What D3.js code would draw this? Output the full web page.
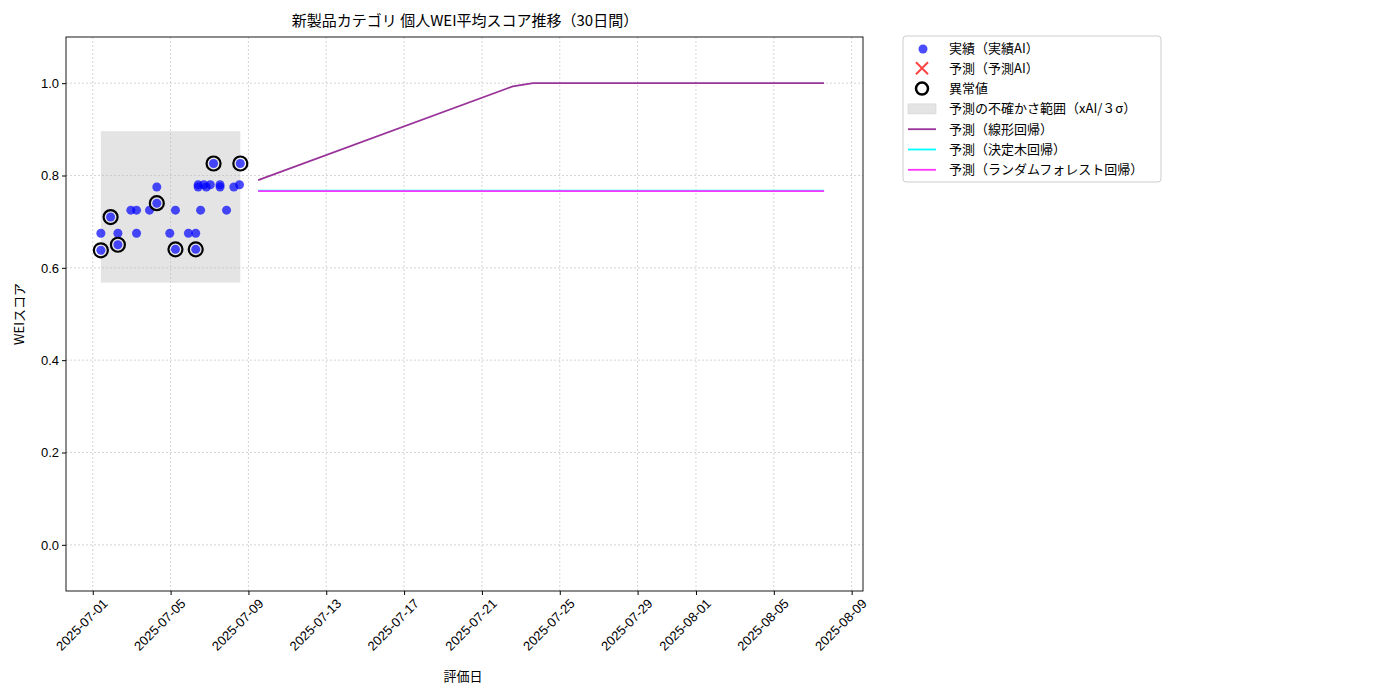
<!DOCTYPE html>
<html><head><meta charset="utf-8">
<script src="https://cdn.jsdelivr.net/npm/d3@7"></script>
<style>body{margin:0;background:#fff;font-family:"Noto Sans CJK JP","DejaVu Sans",sans-serif;}</style>
</head><body><svg id="c" width="1400" height="700"></svg>
<script>
const actual = [
  ["2025-07-01T10:00",0.675],["2025-07-01T10:00",0.638],["2025-07-01T22:00",0.71],
  ["2025-07-02T07:00",0.675],["2025-07-02T07:00",0.65],["2025-07-02T23:00",0.725],
  ["2025-07-03T06:00",0.725],["2025-07-03T06:00",0.675],["2025-07-03T22:00",0.725],
  ["2025-07-04T07:00",0.775],["2025-07-04T07:00",0.74],["2025-07-04T23:00",0.675],
  ["2025-07-05T06:00",0.725],["2025-07-05T06:00",0.64],["2025-07-05T22:00",0.675],
  ["2025-07-06T07:00",0.675],["2025-07-06T07:00",0.64],["2025-07-06T10:00",0.78],
  ["2025-07-06T10:00",0.775],["2025-07-06T13:00",0.725],["2025-07-06T17:00",0.78],
  ["2025-07-06T20:00",0.775],["2025-07-07T01:00",0.78],["2025-07-07T05:00",0.826],
  ["2025-07-07T13:00",0.78],["2025-07-07T13:00",0.775],["2025-07-07T21:00",0.725],
  ["2025-07-08T06:00",0.775],["2025-07-08T13:00",0.78],["2025-07-08T14:00",0.826]
];
const outliers = [
  ["2025-07-01T10:00",0.638],["2025-07-01T22:00",0.71],["2025-07-02T07:00",0.65],
  ["2025-07-04T07:00",0.74],["2025-07-05T06:00",0.64],["2025-07-06T07:00",0.64],
  ["2025-07-07T05:00",0.826],["2025-07-08T14:00",0.826]
];
const band = {x0:"2025-07-01T10:00", x1:"2025-07-08T14:00", y0:0.568, y1:0.896};
const linear = [["2025-07-09T12:00",0.79],["2025-07-22T14:00",0.993],["2025-07-23T15:00",1.0],["2025-08-07T14:00",1.0]];
const tree = [["2025-07-09T12:00",0.767],["2025-08-07T14:00",0.767]];
const forest = [["2025-07-09T12:00",0.766],["2025-08-07T14:00",0.766]];
const tickDates = ["2025-07-01","2025-07-05","2025-07-09","2025-07-13","2025-07-17","2025-07-21","2025-07-25","2025-07-29","2025-08-01","2025-08-05","2025-08-09"];
const yTicks = [0,0.2,0.4,0.6,0.8,1.0];
const legendItems = ["実績（実績AI）","予測（予測AI）","異常値","予測の不確かさ範囲（xAI/３σ）","予測（線形回帰）","予測（決定木回帰）","予測（ランダムフォレスト回帰）"];

const P = d3.timeParse("%Y-%m-%dT%H:%M"), PD = d3.timeParse("%Y-%m-%d");
const svg = d3.select("#c");
const L=66,R=863,T=37,B=591;
const x = d3.scaleTime().domain([P("2025-06-29T15:00"),P("2025-08-09T14:00")]).range([L,R]);
const y = d3.scaleLinear().domain([-0.1,1.1]).range([B,T]);
const g = svg.append("g");
// grid
g.selectAll(".gx").data(tickDates).join("line").attr("x1",d=>x(PD(d))).attr("x2",d=>x(PD(d)))
  .attr("y1",T).attr("y2",B).attr("stroke","#ccc").attr("stroke-dasharray","2,2").attr("stroke-width",0.8);
g.selectAll(".gy").data(yTicks).join("line").attr("y1",d=>y(d)).attr("y2",d=>y(d))
  .attr("x1",L).attr("x2",R).attr("stroke","#ccc").attr("stroke-dasharray","2,2").attr("stroke-width",0.8);
// band
g.append("rect").attr("x",x(P(band.x0))).attr("width",x(P(band.x1))-x(P(band.x0)))
  .attr("y",y(band.y1)).attr("height",y(band.y0)-y(band.y1)).attr("fill","#bbb").attr("fill-opacity",0.4);
const line = d3.line().x(d=>x(P(d[0]))).y(d=>y(d[1]));
g.append("path").attr("d",line(linear)).attr("fill","none").attr("stroke","#993399").attr("stroke-width",1.8);
g.append("path").attr("d",line(tree)).attr("fill","none").attr("stroke","cyan").attr("stroke-width",1.8);
g.append("path").attr("d",line(forest)).attr("fill","none").attr("stroke","#ff33ff").attr("stroke-width",1.8);
g.selectAll(".pt").data(actual).join("circle").attr("cx",d=>x(P(d[0]))).attr("cy",d=>y(d[1]))
  .attr("r",4.5).attr("fill","#0000ff").attr("fill-opacity",0.7);
g.selectAll(".ol").data(outliers).join("circle").attr("cx",d=>x(P(d[0]))).attr("cy",d=>y(d[1]))
  .attr("r",7).attr("fill","none").attr("stroke","#000").attr("stroke-width",2.2);
// frame
svg.append("rect").attr("x",L).attr("y",T).attr("width",R-L).attr("height",B-T).attr("fill","none").attr("stroke","#000").attr("stroke-width",0.9);
// axes
const xa = svg.append("g").attr("transform",`translate(0,${B})`)
  .call(d3.axisBottom(x).tickValues(tickDates.map(d=>PD(d))).tickFormat(d3.timeFormat("%Y-%m-%d")).tickSizeOuter(0).tickSize(4));
xa.select(".domain").remove();
xa.selectAll("text").attr("font-size",13).attr("font-family","inherit").attr("text-anchor","end")
  .attr("transform","translate(4,2) rotate(-45)").attr("dy","0.7em").attr("dx","0");
const ya = svg.append("g").attr("transform",`translate(${L},0)`)
  .call(d3.axisLeft(y).tickValues(yTicks).tickFormat(d3.format(".1f")).tickSize(4));
ya.select(".domain").remove();
ya.selectAll("text").attr("font-size",13).attr("font-family","inherit");
svg.append("text").attr("x",465).attr("y",26).attr("text-anchor","middle").attr("font-size",15).text("新製品カテゴリ 個人WEI平均スコア推移（30日間）");
svg.append("text").attr("x",463).attr("y",681).attr("text-anchor","middle").attr("font-size",13).text("評価日");
svg.append("text").attr("transform","translate(24,314) rotate(-90)").attr("text-anchor","middle").attr("font-size",13).text("WEIスコア");
// legend
const lg = svg.append("g").attr("transform","translate(903,36)");
lg.append("rect").attr("width",258).attr("height",146).attr("rx",3).attr("fill","#fff").attr("stroke","#ccc");
legendItems.forEach((t,i)=>{
  const cy = 12+i*20.3, r = lg.append("g");
  if(i===0) r.append("circle").attr("cx",20).attr("cy",cy+1).attr("r",4.5).attr("fill","#0000ff").attr("fill-opacity",0.7);
  if(i===1){ r.append("path").attr("d",`M13,${cy-6}L25,${cy+6}M13,${cy+6}L25,${cy-6}`).attr("stroke","#ff4444").attr("stroke-width",2); }
  if(i===2) r.append("circle").attr("cx",19).attr("cy",cy).attr("r",6).attr("fill","none").attr("stroke","#000").attr("stroke-width",2.5);
  if(i===3) r.append("rect").attr("x",5).attr("y",cy-5).attr("width",28).attr("height",10).attr("fill","#bbb").attr("fill-opacity",0.4).attr("stroke","#ccc").attr("stroke-width",0.5);
  const cols={4:"#993399",5:"cyan",6:"#ff33ff"};
  if(cols[i]) r.append("line").attr("x1",5).attr("x2",33).attr("y1",cy).attr("y2",cy).attr("stroke",cols[i]).attr("stroke-width",1.8);
  r.append("text").attr("x",46).attr("y",cy+4.5).attr("font-size",13).text(t);
});
</script></body></html>
